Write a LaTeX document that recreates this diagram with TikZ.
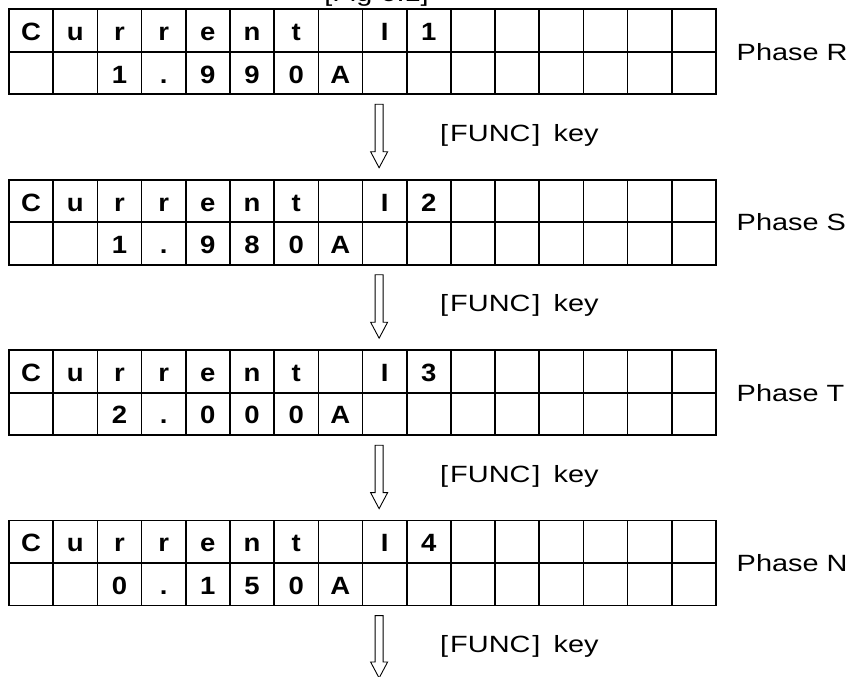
\documentclass[tikz,border=0pt]{standalone}
\usepackage{fontspec}
\setmainfont{Liberation Sans}[FakeStretch=1.1]
\newfontfamily\widefont{Liberation Sans}[FakeStretch=1.23]
\usetikzlibrary{positioning,calc}

\begin{document}
\begin{tikzpicture}[x=1pt, y=-1pt]
\useasboundingbox (0,0) rectangle (852,677);

% Define styles
\tikzstyle{lcdcell} = [draw, rectangle, line width=1.6pt, minimum width=44.19pt, minimum height=42.5pt, inner sep=0pt, outer sep=0pt, font=\bfseries\fontsize{25}{25}\selectfont, text height=20pt, text depth=0pt]
\tikzstyle{phaselabel} = [inner sep=0pt, font=\widefont\fontsize{23.5}{23.5}\selectfont]
\tikzstyle{funckey} = [inner sep=0pt, anchor=west, font=\widefont\fontsize{23.5}{23.5}\selectfont]
\tikzstyle{hollow} = [draw, line width=0.9pt, to path={let \p1=(\tikztostart), \p2=(\tikztotarget) in (\x1-4pt,\y1-10pt) -- (\x1-4pt,\y2+28pt) -- (\x1-8.5pt,\y2+28pt) -- (\x1,\y2+12pt) -- (\x1+8.5pt,\y2+28pt) -- (\x1+4pt,\y2+28pt) -- (\x1+4pt,\y1-10pt) -- cycle}]

% Title (cut off at the top)
\node[funckey, anchor=base] (figtitle) at (376.5,1.5) {[Fig 6.1]};

% Displays
\foreach \k/\da/\db/\dc/\dd/\ph in {1/1/9/9/0/R, 2/1/9/8/0/S, 3/2/0/0/0/T, 4/0/1/5/0/N} {
  \pgfmathsetmacro{\ytop}{9.3+170.45*(\k-1)}
  \foreach \ch [count=\c] in {C,u,r,r,e,n,t,{},I,\k,{},{},{},{},{},{}}
    \node[lcdcell] (t\k r1c\c) at ({9+(\c-0.5)*44.19}, {\ytop+21.25}) {\ch};
  \foreach \ch [count=\c] in {{},{},\da,.,\db,\dc,\dd,A,{},{},{},{},{},{},{},{}}
    \node[lcdcell] (t\k r2c\c) at ({9+(\c-0.5)*44.19}, {\ytop+63.75}) {\ch};
  \node[phaselabel, right=20.5pt of t\k r2c16.north east] (phase\k) {Phase \ph};
  \node[funckey] (key\k) at (440, {\ytop+85+41}) {[\kern2pt FUNC\kern2pt]\kern5pt\ key};
  \coordinate (out\k) at ([xshift=-5.5pt]t\k r2c9.south);
}

% Arrows
\coordinate (tail) at (379,690);
\foreach \k [evaluate=\k as \nxt using int(\k+1)] in {1,2,3}
  \draw[hollow] (out\k) to (t\nxt r1c9.north);
\draw[hollow] (out4) to (tail);

\end{tikzpicture}
\end{document}
